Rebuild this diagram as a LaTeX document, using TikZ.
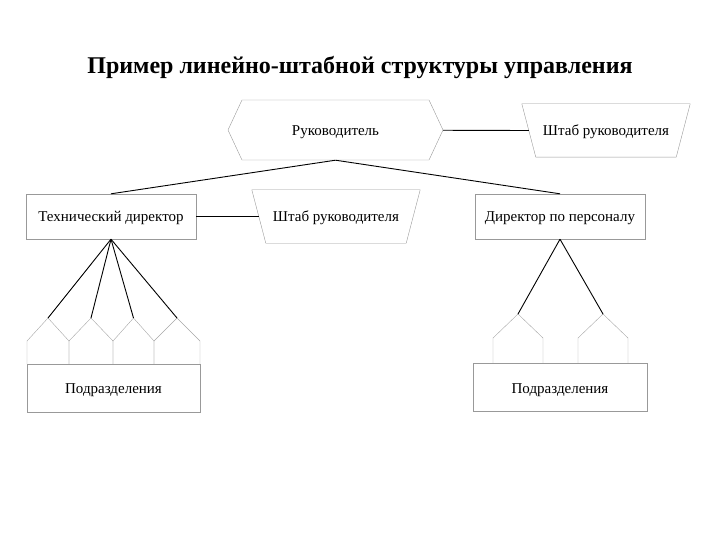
\documentclass[tikz,border=0pt]{standalone}
\usepackage{fontspec}
\setmainfont{Liberation Serif}
\usetikzlibrary{positioning,shapes.symbols}

\begin{document}
\begin{tikzpicture}[x=1pt, y=-1pt,
  txt/.style={font=\fontsize{15}{18}\selectfont, inner sep=0pt,
              text height=11pt, text depth=0pt},
  head/.style={txt, draw=gray!80, signal, signal to=west and east,
               signal pointer angle=130, minimum width=215pt, minimum height=60pt},
  staff/.style={txt, minimum width=168pt, minimum height=53pt},
  unit/.style={txt, draw=gray!80, minimum width=170pt, minimum height=45pt},
  dept/.style={txt, draw=gray!80, minimum height=48pt},
  border/.style={draw=gray!80},
  hut/.style={draw=gray!70, thin},
  link/.style={draw=black, line width=0.9pt}
]
\useasboundingbox (0,0) rectangle (720,540);

%% --- Title ---
\node[font=\fontsize{24}{28}\selectfont\bfseries] (title) at (360,68)
  {Пример линейно-штабной структуры управления};

%% --- Top level ---
\node[head]  (boss)   at (335.5,130) {Руководитель};
\node[staff] (staffA) at (606,130.5) {Штаб руководителя};
\draw[border] (staffA.north west) -- (staffA.north east)
  -- ([xshift=-14pt]staffA.south east) -- ([xshift=14pt]staffA.south west) -- cycle;
\draw[link] (boss) -- ([xshift=7pt]staffA.west);

%% --- Second level ---
\node[unit]  (tech)   at (111,216.5) {Технический директор};
\node[staff] (staffB) at (336,216.5) {Штаб руководителя};
\draw[border] (staffB.north west) -- (staffB.north east)
  -- ([xshift=-14pt]staffB.south east) -- ([xshift=14pt]staffB.south west) -- cycle;
\node[unit]  (pers)   at (560,216.5) {Директор по персоналу};
\draw[link, line width=1.8pt] (tech) -- ([xshift=7pt]staffB.west);
\draw[link] (boss.south) -- (tech.north);
\draw[link] (boss.south) -- (pers.north);

%% --- Departments ---
\node[dept, minimum width=173pt] (deptL) at (113.5,388) {Подразделения};
\node[dept, minimum width=174pt] (deptR) at (560,387.5) {Подразделения};

\foreach \a/\b [count=\i] in {27/69, 69/113, 113/154, 154/200}
  \draw[hut] (\a,364) -- (\a,341) -- ({(\a+\b)/2},318) coordinate (lp\i)
             -- (\b,341) -- (\b,364);
\foreach \a/\b [count=\i] in {493/543, 578/628}
  \draw[hut] (\a,363) -- (\a,338) -- ({(\a+\b)/2},314) coordinate (rp\i)
             -- (\b,338) -- (\b,363);

\foreach \i in {1,...,4}
  \draw[link] (tech.south) -- (lp\i);
\foreach \i in {1,2}
  \draw[link] (pers.south) -- (rp\i);
\end{tikzpicture}
\end{document}
